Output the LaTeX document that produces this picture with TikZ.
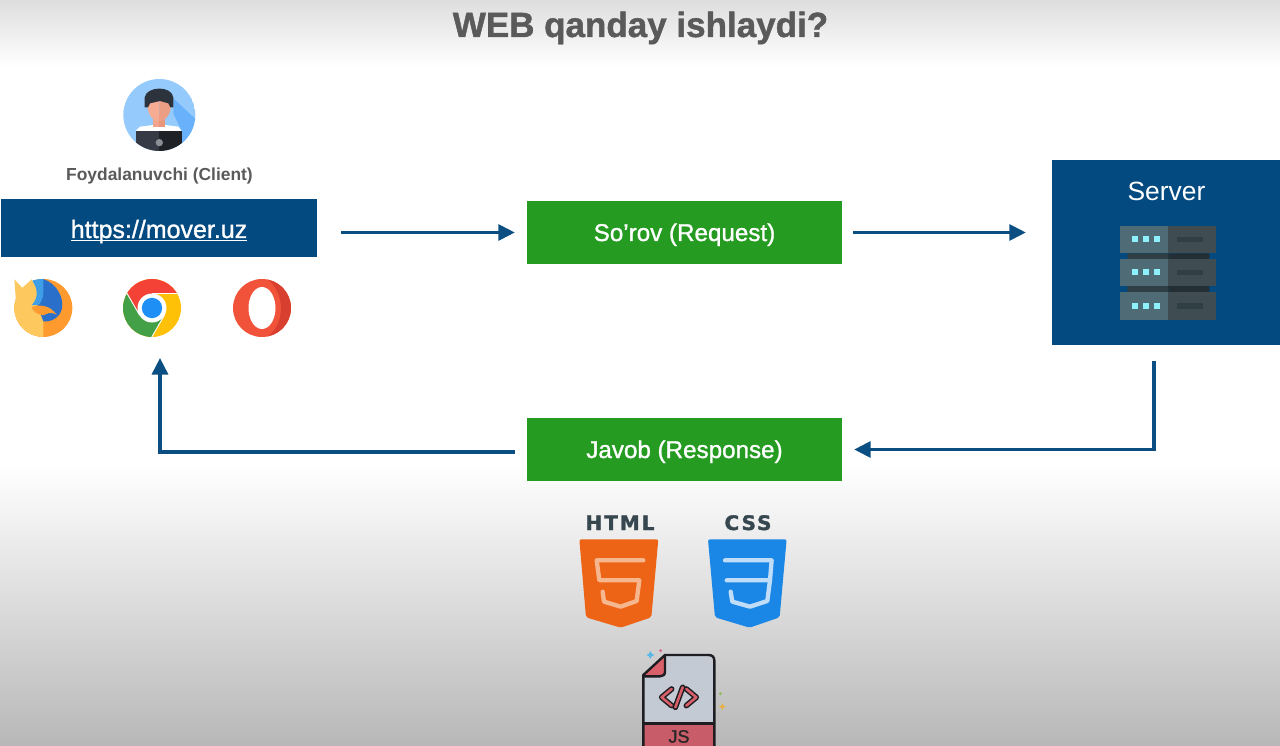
\documentclass[tikz,border=0pt]{standalone}
\usepackage{fontspec}
\setmainfont{Liberation Sans}
\newfontfamily\medfont[FakeBold=1.2]{Liberation Sans}
\newfontfamily\logofont[BoldFeatures={FakeBold=1.5}]{DejaVu Sans}
\usetikzlibrary{arrows.meta,calc}
\definecolor{navy}{HTML}{034A80}
\definecolor{flowc}{HTML}{0B4F82}
\definecolor{grn}{HTML}{259B22}
\definecolor{txtg}{HTML}{5A5A5A}
\definecolor{srvL}{HTML}{4F6B75}
\definecolor{srvR}{HTML}{3F4C51}
\definecolor{srvC}{HTML}{2F3F45}
\definecolor{cyanl}{HTML}{8EF0FB}
\definecolor{logog}{HTML}{37474F}
\definecolor{jsred}{HTML}{C95C69}
\definecolor{jsbody}{HTML}{C3CAD3}
\newcommand{\urlul}[1]{\setbox0\hbox{#1}\rlap{\rule[-3.4pt]{\wd0}{1.3pt}}\box0}
\tikzset{
  HTML/.code={\definecolor{tmpc}{HTML}{#1}\pgfkeysalso{/tikz/color=tmpc}},
  navybox/.style={fill=navy,draw=none,inner sep=0pt,text=white},
  greenbox/.style={fill=grn,draw=none,inner sep=0pt,text=white,minimum width=315pt,minimum height=63.5pt,text height=17pt,text depth=0pt,font=\medfont\fontsize{24.2}{28}\selectfont},
  flow/.style={draw=flowc,line width=3.1pt,-{Triangle[length=16.5pt,width=16pt]}},
  logotext/.style={text=logog,font=\logofont\bfseries\fontsize{20}{24}\selectfont,inner sep=0pt,anchor=base},
  shieldline/.style={line width=4.3pt,line join=round,line cap=round},
  zoomA/.style={shift={(0,70)},x=0.3333pt,y=-0.3333pt},
  zoomB/.style={shift={(1040,150)},x=0.3333pt,y=-0.3333pt},
  zoomC/.style={shift={(560,500)},x=0.3333pt,y=-0.3333pt}
}
\begin{document}
\begin{tikzpicture}[x=1pt,y=-1pt]
\useasboundingbox (0,0) rectangle (1280,746);
\fill[white] (0,0) rectangle (1280,746);
\shade[top color=black!13,bottom color=white] (0,0) rectangle (1280,66);
\shade[top color=white,bottom color=black!28] (0,465) rectangle (1280,746);

\node[text=txtg,font=\medfont\bfseries\fontsize{35}{40}\selectfont,inner sep=0pt,anchor=base] (title) at (640.5,37) {WEB qanday ishlaydi?};

% avatar
\begin{scope}[zoomA]
\clip (478,135) circle (108);
\fill[HTML=94CBFC] (478,135) circle (108);
\fill[HTML=6AB1FB] (520,85) -- (595,155) -- (595,250) -- (545,250) -- (545,183) -- (520,130) -- cycle;
\fill[white] (407,183) -- (420,170) -- (460,165) -- (495,165) -- (535,170) -- (545,183) -- cycle;
\fill[HTML=F2A58C] (460,135) rectangle (478,172);
\fill[HTML=E8957A] (478,135) rectangle (495,172);
\fill[HTML=F5AC93] (478,85) -- (443,85) -- (443,115) .. controls (447,142) and (465,154) .. (478,154) -- cycle;
\fill[HTML=EC9E84] (478,85) -- (512,85) -- (512,115) .. controls (508,142) and (490,154) .. (478,154) -- cycle;
\fill[HTML=2C333D] (434,112) -- (434,82) .. controls (440,48) and (515,46) .. (520,82) -- (520,112) -- (511,112) -- (505,100) -- (480,93) -- (450,100) -- (444,112) -- cycle;
\fill[HTML=363A44] (407,183) rectangle (478,250);
\fill[HTML=1E2126] (478,183) rectangle (545,250);
\fill[HTML=8A8F96] (478,218) circle (11);
\end{scope}
\node[text=txtg,font=\bfseries\fontsize{17.4}{20}\selectfont,inner sep=0pt,anchor=base] (client) at (159.5,181) {Foydalanuvchi (Client)};

% url box
\node[navybox,minimum width=316pt,minimum height=58pt,text height=20pt,text depth=0pt,font=\medfont\fontsize{25}{28}\selectfont] (url) at (159,228) {\urlul{https://mover.uz}};

% firefox
\begin{scope}[zoomA]
\fill[HTML=FF9A2E] (130,714) circle (87);
\begin{scope}
\clip (30,620) rectangle (130,810);
\fill[HTML=FDC85E] (130,714) circle (87);
\end{scope}
\fill[HTML=FDC85E] (43,628) -- (68,655) -- (95,628) -- (110,670) -- (50,720) -- cycle;
\fill[HTML=2A6FC9] (130,627) .. controls (168,640) and (192,680) .. (186,715) .. controls (180,745) and (150,757) .. (130,754) -- (110,700) -- cycle;
\fill[HTML=3F9EE8] (97,632) .. controls (108,628) and (120,627) .. (130,627) -- (130,672) .. controls (128,690) and (120,698) .. (118,704) -- (95,706) .. controls (118,680) and (112,655) .. (97,632) -- cycle;
\fill[HTML=FF9A2E] (95,712) .. controls (115,702) and (150,704) .. (170,735) .. controls (150,722) and (140,733) .. (130,736) .. controls (115,733) and (100,728) .. (95,712) -- cycle;
\end{scope}

% chrome
\begin{scope}[shift={(152,308)},yscale=-1]
\clip (0,0) circle (29);
\fill[HTML=FFC107] (-40,-40) rectangle (40,40);
\fill[HTML=F44336] (-12.4,-7.2) -- (-29,21.7) -- (-29,50) -- (50,50) -- (50,14.5) -- (0,14.5) -- cycle;
\fill[HTML=43A047] (-12.4,-7.2) -- (-29,21.7) -- (-60,21.7) -- (-60,-60) -- (-4.3,-36) -- (12.4,-7.2) -- cycle;
\draw[white,line width=0.9pt] (0,14.5) -- (40,14.5) (-12.4,-7.2) -- (-32,26.7) (12.4,-7.2) -- (-7,-40.7);
\fill[white] (0,0) circle (14.5);
\fill[HTML=1E90F5] (0,0) circle (10.2);
\end{scope}

% opera
\fill[HTML=F0533A] (262,308) circle (29);
\begin{scope}
\clip (262,308) circle (29);
\fill[HTML=D83F2E] (267,279) .. controls (276,285) and (281,298) .. (281,308) .. controls (281,320) and (276,331) .. (267,337) -- (300,340) -- (300,276) -- cycle;
\end{scope}
\fill[white] (262,308) ellipse (13.5 and 21);

% request / response
\node[greenbox] (req) at (684.5,232.5) {So’rov (Request)};
\node[greenbox] (resp) at (684.5,449.5) {Javob (Response)};

% server
\node[navybox,minimum width=228pt,minimum height=185pt] (srv) at (1166,252.5) {};
\node[text=white,font=\fontsize{26.4}{30}\selectfont,inner sep=0pt,anchor=base] (srvt) at (1166.5,201) {Server};
\begin{scope}[zoomB]
\fill[srvC] (262,310) rectangle (385,327) (262,408) rectangle (385,427);
\fill[black!25!srvC] (385,310) rectangle (508,327) (385,408) rectangle (508,427);
\foreach \ya/\yb in {227/310,327/408,427/510}{
  \fill[srvL] (240,\ya) rectangle (385,\yb);
  \fill[srvR] (385,\ya) rectangle (527,\yb);
  \fill[srvC] (410,{(\ya+\yb)/2-8}) rectangle (490,{(\ya+\yb)/2+8});
  \foreach \xd in {285,318,351}{
    \fill[cyanl] ({\xd-9},{(\ya+\yb)/2-9}) rectangle ({\xd+9},{(\ya+\yb)/2+9});
  }
}
\end{scope}

% connectors
\draw[flow,shorten <=24pt,shorten >=12pt] (url.east |- req.west) -- (req.west);
\draw[flow,shorten <=11pt,shorten >=26pt] (req.east) -- (req.east -| srv.west);
\coordinate (sb) at (1154,345);
\draw[flow,shorten <=16pt,shorten >=12pt] (sb) |- (resp.east);
\coordinate (up) at (160,358);
\draw[flow,shorten <=12pt] ([yshift=-2.5pt]resp.west) -| (up);

% html / css logos
\node[logotext] (htmlt) at (620,530) {\addfontfeature{LetterSpace=10}HTML};
\node[logotext] (csst) at (748,530) {\addfontfeature{LetterSpace=10}CSS};
\begin{scope}[zoomC]
\fill[HTML=EE6417,rounded corners=2pt] (58,118) -- (295,118) -- (274,352) -- (182,383) -- (78,352) -- cycle;
\draw[HTML=F7B78E,shieldline] (250,181) -- (110,181) -- (118,241) -- (238,241) -- (230,303) -- (182,320) -- (132,305) -- (128,275);
\fill[HTML=1A87E6,rounded corners=2pt] (444,118) -- (680,118) -- (659,352) -- (569,383) -- (465,352) -- cycle;
\draw[HTML=BFDDF8,shieldline] (495,181) -- (635,181) -- (630,241) -- (500,241);
\draw[HTML=BFDDF8,shieldline] (630,241) -- (622,303) -- (570,320) -- (517,305) -- (512,275);
% JS file
\fill[jsbody] (250,525) -- (315,465) -- (445,465) -- (463,482) -- (463,738) -- (250,738) -- cycle;
\fill[jsred] (250,670) rectangle (463,738);
\fill[HTML=D9606A] (250,525) -- (315,465) -- (315,528) -- cycle;
\draw[HTML=1D1D22,line width=2.4pt,line join=round] (250,738) -- (250,525) -- (315,465) -- (445,465) .. controls (458,465) and (463,472) .. (463,482) -- (463,738);
\draw[HTML=1D1D22,line width=2.4pt,line join=round] (315,465) -- (315,515) .. controls (315,525) and (308,529) .. (300,529) -- (250,529);
\draw[HTML=1D1D22,line width=2.4pt] (250,670) -- (463,670);
\node[text=black!85,font=\medfont\fontsize{18}{20}\selectfont,inner sep=0pt,anchor=base] (jst) at (357,728) {JS};
\draw[HTML=1D1D22,line width=5.6pt,line join=round,line cap=round] (335,567) -- (305,592) -- (335,617) (379,567) -- (409,592) -- (379,617) (368,562) -- (346,622);
\draw[HTML=D9606A,line width=2.6pt,line join=round,line cap=round] (335,567) -- (305,592) -- (335,617) (379,567) -- (409,592) -- (379,617) (368,562) -- (346,622);
% sparkles
\fill[HTML=55B8E8] (271,453) -- (275,461) -- (283,465) -- (275,469) -- (271,477) -- (267,469) -- (259,465) -- (267,461) -- cycle;
\fill[HTML=D5688F] (302,452) circle (5);
\fill[HTML=8DBF5A] (481,581) circle (5);
\fill[HTML=E8B040] (487,609) -- (490,617) -- (498,620) -- (490,623) -- (487,631) -- (484,623) -- (476,620) -- (484,617) -- cycle;
\end{scope}
\end{tikzpicture}
\end{document}
